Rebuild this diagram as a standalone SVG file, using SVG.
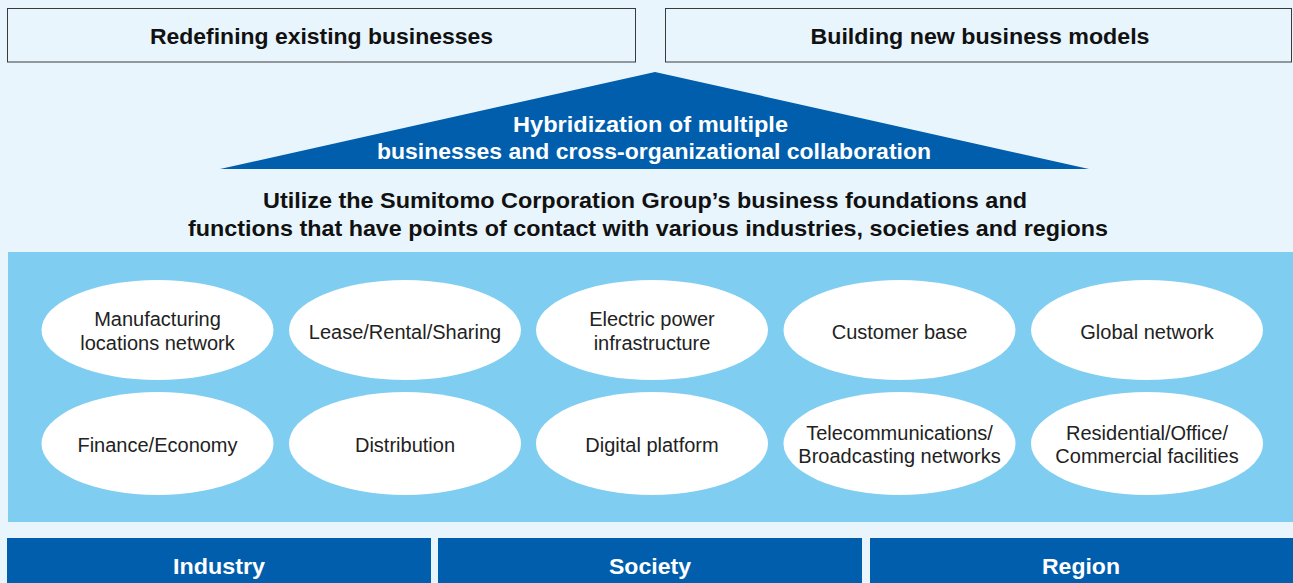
<svg xmlns="http://www.w3.org/2000/svg" width="1293" height="583" viewBox="0 0 1293 583">
<style>
.bg{fill:#e8f5fd}
.topbox{fill:#e8f5fd;stroke:#3a3a3a;stroke-width:1}
.b{font-family:"Liberation Sans",Arial,sans-serif;font-weight:bold;text-anchor:middle;font-size:22px}
.dark{fill:#111}
.white{fill:#fff}
.node ellipse{fill:#fff}
.node text{font-family:"Liberation Sans",Arial,sans-serif;font-size:20px;fill:#222;text-anchor:middle}
.bar{fill:#005ead}
</style>
<rect class="bg" x="0" y="0" width="1293" height="583"/>
<g id="box-redefining">
<rect class="topbox" x="7.5" y="8.5" width="628" height="53.5"/>
<text class="b dark" x="321.5" y="43.5" textLength="343" lengthAdjust="spacingAndGlyphs">Redefining existing businesses</text>
</g>
<g id="box-building">
<rect class="topbox" x="665.5" y="8.5" width="626" height="53.5"/>
<text class="b dark" x="980" y="43.5" textLength="339" lengthAdjust="spacingAndGlyphs">Building new business models</text>
</g>
<g id="triangle">
<polygon points="655,72 1089,169 220,169" fill="#005ead"/>
<text class="b white" x="650.5" y="131.5" textLength="275" lengthAdjust="spacingAndGlyphs">Hybridization of multiple</text>
<text class="b white" x="654" y="159" textLength="554" lengthAdjust="spacingAndGlyphs">businesses and cross-organizational collaboration</text>
</g>
<g id="heading">
<text class="b dark" x="645" y="207.5" textLength="764" lengthAdjust="spacingAndGlyphs">Utilize the Sumitomo Corporation Group’s business foundations and</text>
<text class="b dark" x="648" y="236" textLength="920" lengthAdjust="spacingAndGlyphs">functions that have points of contact with various industries, societies and regions</text>
</g>
<rect id="panel" x="8" y="252" width="1285" height="270" fill="#80cdf2"/>
<g id="nodes">
<g id="n1" class="node"><ellipse cx="157.5" cy="330" rx="116" ry="50"/><text x="157.5" y="326">Manufacturing</text><text x="157.5" y="350">locations network</text></g>
<g id="n2" class="node"><ellipse cx="405" cy="330" rx="116" ry="50"/><text x="405" y="338.5">Lease/Rental/Sharing</text></g>
<g id="n3" class="node"><ellipse cx="652" cy="330" rx="116" ry="50"/><text x="652" y="326">Electric power</text><text x="652" y="350">infrastructure</text></g>
<g id="n4" class="node"><ellipse cx="899.5" cy="330" rx="116" ry="50"/><text x="899.5" y="338.5">Customer base</text></g>
<g id="n5" class="node"><ellipse cx="1147" cy="330" rx="116" ry="50"/><text x="1147" y="338.5">Global network</text></g>
<g id="n6" class="node"><ellipse cx="157.5" cy="443.5" rx="116" ry="51.5"/><text x="157.5" y="452">Finance/Economy</text></g>
<g id="n7" class="node"><ellipse cx="405" cy="443.5" rx="116" ry="51.5"/><text x="405" y="452">Distribution</text></g>
<g id="n8" class="node"><ellipse cx="652" cy="443.5" rx="116" ry="51.5"/><text x="652" y="452">Digital platform</text></g>
<g id="n9" class="node"><ellipse cx="899.5" cy="443.5" rx="116" ry="51.5"/><text x="899.5" y="440">Telecommunications/</text><text x="899.5" y="463">Broadcasting networks</text></g>
<g id="n10" class="node"><ellipse cx="1147" cy="443.5" rx="116" ry="51.5"/><text x="1147" y="440">Residential/Office/</text><text x="1147" y="463">Commercial facilities</text></g>
</g>
<g id="connectors"></g>
<g id="bar-industry"><rect class="bar" x="7" y="538" width="424" height="45"/><text class="b white" x="219" y="574" textLength="92" lengthAdjust="spacingAndGlyphs">Industry</text></g>
<g id="bar-society"><rect class="bar" x="438" y="538" width="424" height="45"/><text class="b white" x="650" y="574" textLength="82" lengthAdjust="spacingAndGlyphs">Society</text></g>
<g id="bar-region"><rect class="bar" x="870" y="538" width="423" height="45"/><text class="b white" x="1081" y="574" textLength="78" lengthAdjust="spacingAndGlyphs">Region</text></g>
</svg>
